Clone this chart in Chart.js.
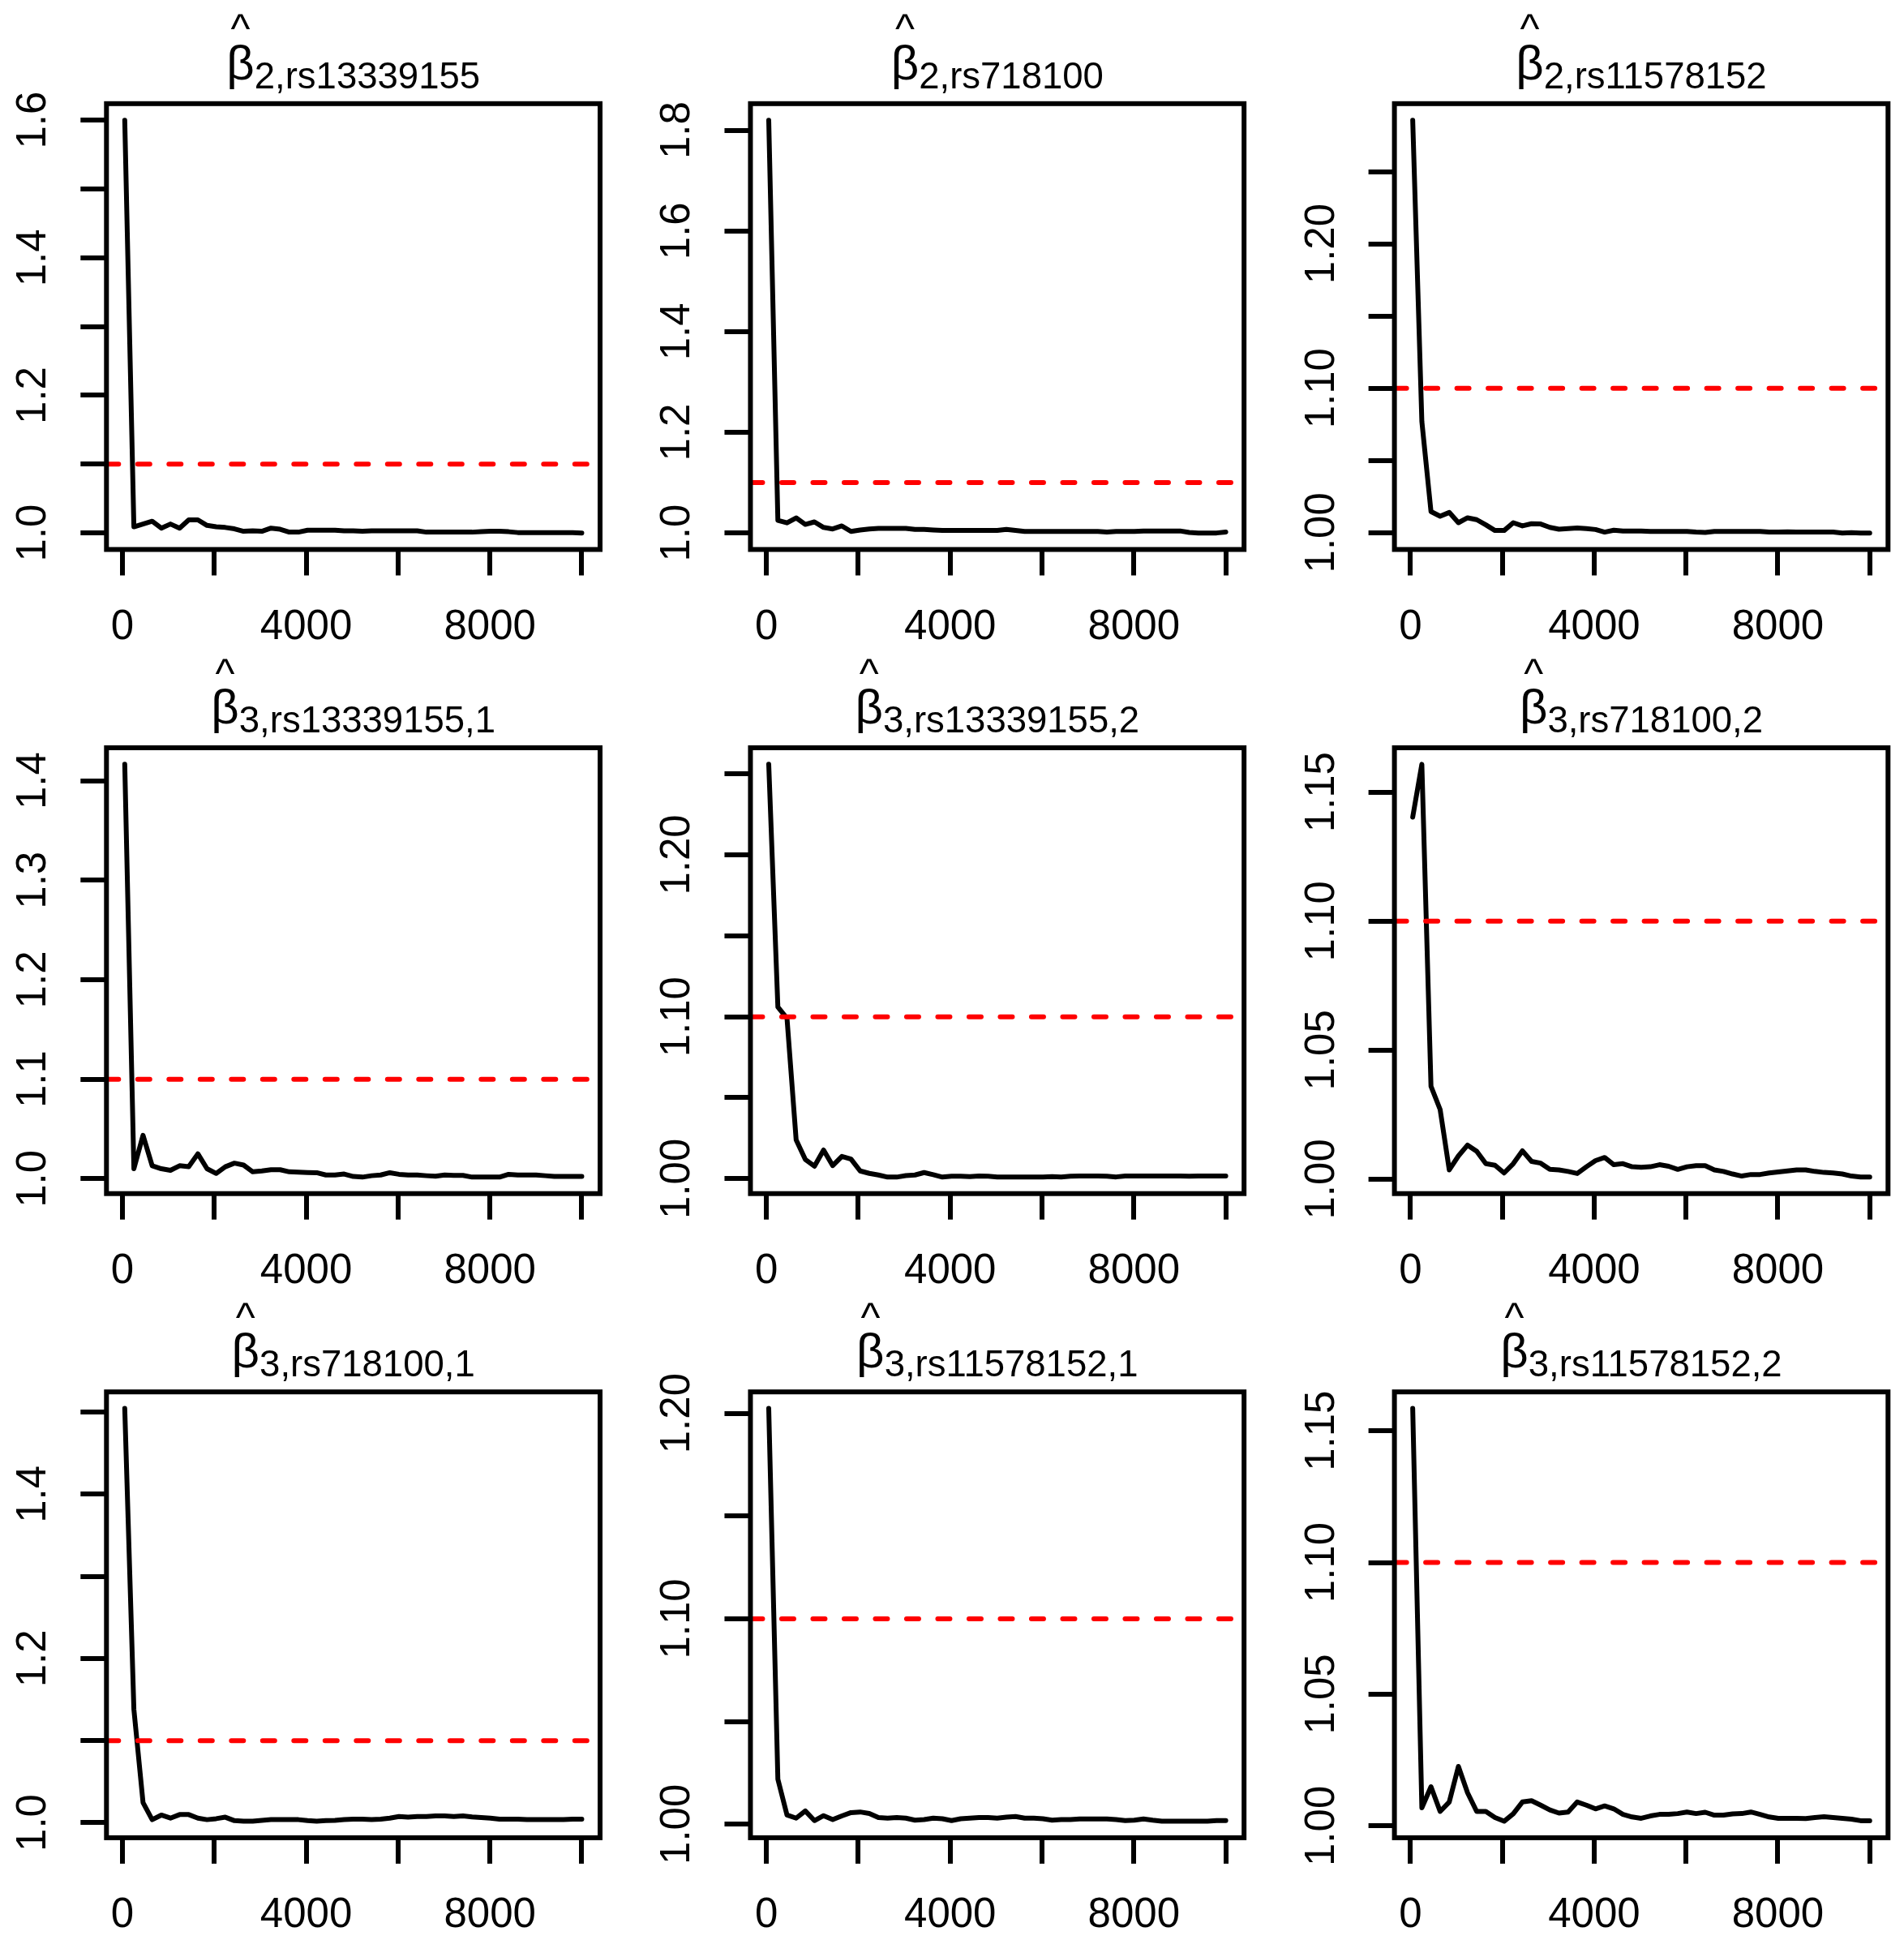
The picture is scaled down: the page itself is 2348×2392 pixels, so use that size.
<!DOCTYPE html>
<html>
<head>
<meta charset="utf-8">
<script src="https://cdn.jsdelivr.net/npm/chart.js@4/dist/chart.umd.min.js"></script>
<style>
  html, body { margin: 0; padding: 0; background: #fff; overflow: hidden; }
  #grid { position: relative; width: 2348px; height: 2392px; }
  #grid canvas { position: absolute; }
</style>
</head>
<body>
<div id="grid"></div>
<script>
// ----------- data: shrink factor per iteration -----------
const iterations = [50, 249, 448, 647, 846, 1045, 1244, 1443, 1642, 1841,
    2040, 2239, 2438, 2637, 2836, 3035, 3234, 3433, 3632, 3831,
    4030, 4229, 4428, 4627, 4826, 5025, 5224, 5423, 5622, 5821,
    6020, 6219, 6418, 6617, 6816, 7015, 7214, 7413, 7612, 7811,
    8010, 8209, 8408, 8607, 8806, 9005, 9204, 9403, 9602, 9801, 10000];

const shrink1 = [1.600, 1.009, 1.013, 1.017, 1.007, 1.013, 1.007, 1.019, 1.019, 1.011,
    1.009, 1.008, 1.006, 1.0024, 1.003, 1.0024, 1.007, 1.0054, 1.0012, 1.0012,
    1.004, 1.004, 1.004, 1.004, 1.003, 1.003, 1.0024, 1.003, 1.003, 1.003,
    1.003, 1.003, 1.003, 1.0012, 1.0012, 1.0012, 1.0012, 1.0012, 1.0012, 1.0018,
    1.0024, 1.0024, 1.0018, 1.0006, 1.0006, 1.0006, 1.0006, 1.0006, 1.0006, 1.0006, 1.000];

const shrink2 = [1.820, 1.025, 1.020, 1.030, 1.017, 1.022, 1.011, 1.008, 1.014, 1.003,
    1.006, 1.008, 1.009, 1.009, 1.009, 1.009, 1.007, 1.007, 1.006, 1.005,
    1.005, 1.005, 1.005, 1.005, 1.005, 1.005, 1.007, 1.005, 1.003, 1.003,
    1.003, 1.003, 1.003, 1.003, 1.003, 1.003, 1.003, 1.002, 1.003, 1.003,
    1.003, 1.004, 1.004, 1.004, 1.004, 1.004, 1.001, 1.000, 1.000, 1.000, 1.002];

const shrink3 = [1.2856, 1.077, 1.0146, 1.0114, 1.014, 1.0069, 1.0103, 1.009, 1.0054, 1.0015,
    1.0015, 1.0069, 1.0047, 1.0062, 1.006, 1.0037, 1.0024, 1.0028, 1.0032, 1.0028,
    1.0022, 1.0004, 1.0017, 1.0011, 1.0011, 1.0011, 1.0009, 1.0009, 1.0009, 1.0009,
    1.0009, 1.0004, 1.0002, 1.0009, 1.0009, 1.0009, 1.0009, 1.0009, 1.0009, 1.0004,
    1.0004, 1.0006, 1.0004, 1.0004, 1.0004, 1.0004, 1.0004, 0.9998, 1.0000, 0.9998, 0.9998];

const shrink4 = [1.4165, 1.010, 1.0436, 1.013, 1.010, 1.0084, 1.013, 1.012, 1.025, 1.010,
    1.0053, 1.012, 1.0156, 1.0137, 1.0069, 1.0078, 1.009, 1.009, 1.0069, 1.0065,
    1.0062, 1.006, 1.0037, 1.0037, 1.0047, 1.0022, 1.0016, 1.003, 1.0037, 1.006,
    1.0044, 1.0037, 1.0037, 1.003, 1.0025, 1.0037, 1.0033, 1.0033, 1.0016, 1.0016,
    1.0016, 1.0016, 1.0044, 1.0037, 1.0037, 1.0037, 1.003, 1.0022, 1.0022, 1.0022, 1.0022];

const shrink5 = [1.2559, 1.106, 1.099, 1.024, 1.0119, 1.0077, 1.0177, 1.0081, 1.0138, 1.0121,
    1.0048, 1.0033, 1.0023, 1.001, 1.001, 1.0019, 1.0023, 1.0038, 1.0025, 1.001,
    1.0015, 1.0015, 1.0013, 1.0017, 1.0015, 1.0011, 1.0011, 1.0011, 1.0011, 1.0011,
    1.0011, 1.0013, 1.0011, 1.0015, 1.0017, 1.0017, 1.0017, 1.0015, 1.0011, 1.0017,
    1.0017, 1.0017, 1.0017, 1.0017, 1.0017, 1.0017, 1.0015, 1.0017, 1.0017, 1.0017, 1.0017];

const shrink6 = [1.1403, 1.1608, 1.036, 1.027, 1.0036, 1.009, 1.0132, 1.0108, 1.006, 1.0054,
    1.0024, 1.006, 1.011, 1.0069, 1.0062, 1.0038, 1.0036, 1.003, 1.0022, 1.0048,
    1.0072, 1.0084, 1.0056, 1.006, 1.0048, 1.0046, 1.0048, 1.0056, 1.005, 1.0038,
    1.0048, 1.0052, 1.0052, 1.0036, 1.003, 1.002, 1.0012, 1.0018, 1.0018, 1.0024,
    1.0028, 1.0032, 1.0036, 1.0036, 1.003, 1.0026, 1.0024, 1.002, 1.0012, 1.0008, 1.0008];

const shrink7 = [1.5045, 1.138, 1.0246, 1.0038, 1.0094, 1.0057, 1.010, 1.010, 1.0057, 1.0038,
    1.005, 1.0068, 1.0026, 1.0019, 1.0019, 1.003, 1.0038, 1.0038, 1.0038, 1.0038,
    1.0026, 1.0019, 1.0026, 1.003, 1.0038, 1.0045, 1.0045, 1.0038, 1.0045, 1.0057,
    1.0076, 1.0068, 1.0076, 1.0076, 1.0083, 1.0083, 1.0076, 1.0083, 1.0072, 1.0064,
    1.0057, 1.0045, 1.0045, 1.0045, 1.0038, 1.0038, 1.0038, 1.0038, 1.0038, 1.0045, 1.0045];

const shrink8 = [1.2024, 1.0219, 1.0045, 1.003, 1.0065, 1.0018, 1.0042, 1.0023, 1.0041, 1.0057,
    1.006, 1.0053, 1.0033, 1.003, 1.0033, 1.003, 1.002, 1.0023, 1.003, 1.0027,
    1.0018, 1.0027, 1.003, 1.0033, 1.0033, 1.003, 1.0035, 1.0038, 1.003, 1.003,
    1.0027, 1.002, 1.0023, 1.0023, 1.0026, 1.0026, 1.0026, 1.0026, 1.0023, 1.0018,
    1.002, 1.0026, 1.002, 1.0015, 1.0015, 1.0015, 1.0015, 1.0015, 1.0015, 1.0018, 1.0018];

const shrink9 = [1.1585, 1.0069, 1.0149, 1.0055, 1.0091, 1.0226, 1.0126, 1.0055, 1.0055, 1.0032,
    1.0018, 1.0046, 1.0091, 1.0096, 1.0079, 1.0061, 1.0049, 1.0053, 1.0091, 1.0079,
    1.0065, 1.0076, 1.0065, 1.0044, 1.0034, 1.0029, 1.0038, 1.0044, 1.0044, 1.0047,
    1.0053, 1.0047, 1.0052, 1.0041, 1.0041, 1.0046, 1.0047, 1.0053, 1.0044, 1.0034,
    1.0029, 1.0029, 1.0029, 1.0028, 1.0032, 1.0035, 1.0032, 1.0029, 1.0026, 1.002, 1.002];

const threshold = 1.1;

// ----------- ticks -----------
const xTicks = [0, 2000, 4000, 6000, 8000, 10000];
const xTickLabels = ['0', '', '4000', '', '8000', ''];

const yTicks1 = [1.0, 1.1, 1.2, 1.3, 1.4, 1.5, 1.6];
const yTickLabels1 = ['1.0', '', '1.2', '', '1.4', '', '1.6'];
const yTicks2 = [1.0, 1.2, 1.4, 1.6, 1.8];
const yTickLabels2 = ['1.0', '1.2', '1.4', '1.6', '1.8'];
const yTicks3 = [1.00, 1.05, 1.10, 1.15, 1.20, 1.25];
const yTickLabels3 = ['1.00', '', '1.10', '', '1.20', ''];
const yTicks4 = [1.0, 1.1, 1.2, 1.3, 1.4];
const yTickLabels4 = ['1.0', '1.1', '1.2', '1.3', '1.4'];
const yTicks5 = [1.00, 1.05, 1.10, 1.15, 1.20, 1.25];
const yTickLabels5 = ['1.00', '', '1.10', '', '1.20', ''];
const yTicks6 = [1.00, 1.05, 1.10, 1.15];
const yTickLabels6 = ['1.00', '1.05', '1.10', '1.15'];
const yTicks7 = [1.0, 1.1, 1.2, 1.3, 1.4, 1.5];
const yTickLabels7 = ['1.0', '', '1.2', '', '1.4', ''];
const yTicks8 = [1.00, 1.05, 1.10, 1.15, 1.20];
const yTickLabels8 = ['1.00', '', '1.10', '', '1.20'];
const yTicks9 = [1.00, 1.05, 1.10, 1.15];
const yTickLabels9 = ['1.00', '1.05', '1.10', '1.15'];

// titles: beta hat with subscript
const titleSubs = ['2,rs13339155', '2,rs718100', '2,rs11578152',
    '3,rs13339155,1', '3,rs13339155,2', '3,rs718100,2',
    '3,rs718100,1', '3,rs11578152,1', '3,rs11578152,2'];

const panels = [
    { values: shrink1, yTicks: yTicks1, yLabels: yTickLabels1 },
    { values: shrink2, yTicks: yTicks2, yLabels: yTickLabels2 },
    { values: shrink3, yTicks: yTicks3, yLabels: yTickLabels3 },
    { values: shrink4, yTicks: yTicks4, yLabels: yTickLabels4 },
    { values: shrink5, yTicks: yTicks5, yLabels: yTickLabels5 },
    { values: shrink6, yTicks: yTicks6, yLabels: yTickLabels6 },
    { values: shrink7, yTicks: yTicks7, yLabels: yTickLabels7 },
    { values: shrink8, yTicks: yTicks8, yLabels: yTickLabels8 },
    { values: shrink9, yTicks: yTicks9, yLabels: yTickLabels9 }
];

// ----------- layout (px) -----------
const CANVAS_W = 760, CANVAS_H = 794;
const STEP_X = 794.15, STEP_Y = 794.2;
const BOX_LEFT = 131.3, BOX_TOP = 127.8, BOX_W = 608.7, BOX_H = 549.7;
const LINE_W = 6;
const FONT = '"Liberation Sans", Arial, sans-serif';

// R style range: data range widened by 4% each side
function paddedRange(arr) {
    const lo = Math.min(...arr), hi = Math.max(...arr);
    const d = (hi - lo) * 0.04;
    return [lo - d, hi + d];
}

// box, tick labels and title drawn over the chart
function makeDecor(panel, sub) {
    return {
        id: 'decor',
        afterDraw(chart) {
            const { ctx, chartArea: a, scales } = chart;
            ctx.save();
            ctx.strokeStyle = '#000';
            ctx.lineWidth = LINE_W;
            ctx.strokeRect(a.left, a.top, a.right - a.left, a.bottom - a.top);

            ctx.fillStyle = '#000';
            ctx.font = '51px ' + FONT;
            ctx.textAlign = 'center';
            ctx.textBaseline = 'alphabetic';

            // x labels
            xTicks.forEach((v, i) => {
                if (!xTickLabels[i]) return;
                ctx.fillText(xTickLabels[i], scales.x.getPixelForValue(v), a.bottom + 110.5);
            });

            // y labels, rotated like R
            panel.yTicks.forEach((v, i) => {
                if (!panel.yLabels[i]) return;
                ctx.save();
                ctx.translate(a.left - 75, scales.y.getPixelForValue(v));
                ctx.rotate(-Math.PI / 2);
                ctx.fillText(panel.yLabels[i], 0, 0);
                ctx.restore();
            });

            // title
            ctx.textAlign = 'left';
            ctx.font = '60px ' + FONT;
            const wB = ctx.measureText('β').width;
            ctx.font = '45.5px ' + FONT;
            const wS = ctx.measureText(sub).width;
            const x0 = (a.left + a.right) / 2 - (wB + wS) / 2;

            ctx.font = '60px ' + FONT;
            ctx.fillText('β', x0, a.top - 30);
            ctx.font = '51px ' + FONT;
            ctx.textAlign = 'center';
            ctx.fillText('^', x0 + wB / 2, a.top - 74.5);
            ctx.textAlign = 'left';
            ctx.font = '45.5px ' + FONT;
            ctx.fillText(sub, x0 + wB, a.top - 19);
            ctx.restore();
        }
    };
}

const grid = document.getElementById('grid');
const [xMin, xMax] = paddedRange(iterations);

panels.forEach((panel, idx) => {
    const col = idx % 3, row = Math.floor(idx / 3);
    const cLeft = col * 794, cTop = row * 794;
    const boxL = BOX_LEFT + col * STEP_X - cLeft;
    const boxT = BOX_TOP + row * STEP_Y - cTop;

    const canvas = document.createElement('canvas');
    canvas.width = CANVAS_W;
    canvas.height = CANVAS_H;
    canvas.style.left = cLeft + 'px';
    canvas.style.top = cTop + 'px';
    grid.appendChild(canvas);

    const [yMin, yMax] = paddedRange(panel.values);

    new Chart(canvas, {
        type: 'line',
        data: {
            datasets: [
                {
                    data: iterations.map((x, i) => ({ x: x, y: panel.values[i] })),
                    borderColor: '#000000',
                    borderWidth: LINE_W,
                    pointRadius: 0,
                    tension: 0,
                    borderCapStyle: 'round',
                    borderJoinStyle: 'round',
                    order: 1
                },
                {
                    // threshold line across the whole plot
                    data: [{ x: xMin, y: threshold }, { x: xMax, y: threshold }],
                    borderColor: '#ff0000',
                    borderWidth: LINE_W,
                    borderDash: [15, 23.5],
                    borderCapStyle: 'round',
                    pointRadius: 0,
                    order: 0
                }
            ]
        },
        options: {
            responsive: false,
            animation: false,
            devicePixelRatio: 1,
            events: [],
            layout: {
                padding: { left: 0, top: boxT, right: CANVAS_W - boxL - BOX_W, bottom: 0 }
            },
            plugins: {
                legend: { display: false },
                tooltip: { enabled: false },
                title: { display: false }
            },
            scales: {
                x: {
                    type: 'linear',
                    min: xMin,
                    max: xMax,
                    afterBuildTicks: s => { s.ticks = xTicks.map(v => ({ value: v })); },
                    afterFit: s => { s.height = CANVAS_H - boxT - BOX_H; },
                    ticks: { display: false, autoSkip: false },
                    grid: { drawOnChartArea: false, drawTicks: true, tickLength: 32, lineWidth: LINE_W, color: '#000' },
                    border: { display: false }
                },
                y: {
                    type: 'linear',
                    min: yMin,
                    max: yMax,
                    afterBuildTicks: s => { s.ticks = panel.yTicks.map(v => ({ value: v })); },
                    afterFit: s => { s.width = boxL; },
                    ticks: { display: false, autoSkip: false },
                    grid: { drawOnChartArea: false, drawTicks: true, tickLength: 32, lineWidth: LINE_W, color: '#000' },
                    border: { display: false }
                }
            }
        },
        plugins: [makeDecor(panel, titleSubs[idx])]
    });
});
</script>
</body>
</html>
